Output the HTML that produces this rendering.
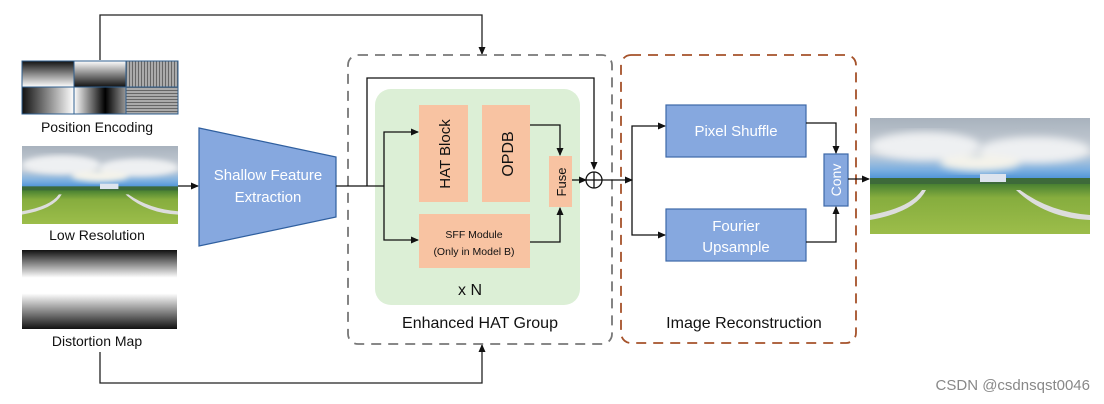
<!DOCTYPE html>
<html><head><meta charset="utf-8"><style>
html,body{margin:0;padding:0;background:#fff;}
svg{display:block;font-family:"Liberation Sans","DejaVu Sans",sans-serif;}
</style></head><body>
<svg width="1104" height="404" viewBox="0 0 1104 404" xmlns="http://www.w3.org/2000/svg">
<defs>
<marker id="ar" markerWidth="8" markerHeight="8" refX="7" refY="4" orient="auto" markerUnits="userSpaceOnUse">
<path d="M0,0.5 L8,4 L0,7.5 z" fill="#111"/></marker>
<linearGradient id="sky" x1="0" y1="0" x2="0" y2="1">
<stop offset="0" stop-color="#a8b2bd"/><stop offset="0.3" stop-color="#c9d0d8"/><stop offset="0.45" stop-color="#7aaee0"/><stop offset="0.55" stop-color="#3f8ad6"/></linearGradient>
<linearGradient id="grass" x1="0" y1="0" x2="0" y2="1">
<stop offset="0" stop-color="#3f7a30"/><stop offset="0.3" stop-color="#86ad3e"/><stop offset="1" stop-color="#9cbd4a"/></linearGradient>
<linearGradient id="dist" x1="0" y1="0" x2="0" y2="1">
<stop offset="0" stop-color="#111"/><stop offset="0.35" stop-color="#fff"/><stop offset="0.55" stop-color="#fff"/><stop offset="1" stop-color="#111"/></linearGradient>
<linearGradient id="g1" x1="0" y1="0" x2="0" y2="1"><stop offset="0" stop-color="#111"/><stop offset="1" stop-color="#fff"/></linearGradient>
<linearGradient id="g2" x1="0" y1="0" x2="0" y2="1"><stop offset="0" stop-color="#fff"/><stop offset="1" stop-color="#111"/></linearGradient>
<linearGradient id="g4" x1="0" y1="0" x2="1" y2="0"><stop offset="0" stop-color="#111"/><stop offset="1" stop-color="#fff"/></linearGradient>
<linearGradient id="g5" x1="0" y1="0" x2="1" y2="0"><stop offset="0" stop-color="#fff"/><stop offset="0.6" stop-color="#000"/><stop offset="1" stop-color="#999"/></linearGradient>
<pattern id="vs" width="3" height="3" patternUnits="userSpaceOnUse"><rect width="3" height="3" fill="#aaa"/><rect width="1" height="3" fill="#666"/></pattern>
<pattern id="hs" width="3" height="3" patternUnits="userSpaceOnUse"><rect width="3" height="3" fill="#aaa"/><rect width="3" height="1" fill="#666"/></pattern>
<filter id="bl"><feGaussianBlur stdDeviation="4"/></filter>
<symbol id="pano" viewBox="0 0 220 116" preserveAspectRatio="none">
<rect width="220" height="116" fill="url(#sky)"/>
<g filter="url(#bl)" fill="#eef0f2">
<ellipse cx="55" cy="28" rx="55" ry="14"/>
<ellipse cx="165" cy="32" rx="55" ry="13"/>
<ellipse cx="110" cy="45" rx="40" ry="8" fill="#f4f3ea"/>
</g>
<rect y="64" width="220" height="52" fill="url(#grass)"/>
<rect y="60" width="220" height="6" fill="#3d6a3a"/>
<rect x="110" y="56" width="26" height="8" fill="#dde4ee"/>
<path d="M0,97 Q40,90 52,72 L56,72 Q45,94 0,102 z" fill="#ddd"/>
<path d="M220,97 Q180,94 150,72 L146,72 Q175,100 220,102 z" fill="#ddd"/>
</symbol>
</defs>

<polyline points="100,60 100,15 482,15 482,54" fill="none" stroke="#222" stroke-width="1.3" marker-end="url(#ar)"/>
<polyline points="100,352 100,383 482,383 482,345" fill="none" stroke="#222" stroke-width="1.3" marker-end="url(#ar)"/>

<g stroke="#2f5f8f" stroke-width="1">
<rect x="22" y="61" width="52" height="26" fill="url(#g1)"/>
<rect x="74" y="61" width="52" height="26" fill="url(#g2)"/>
<rect x="126" y="61" width="52" height="26" fill="url(#vs)"/>
<rect x="22" y="87" width="52" height="27" fill="url(#g4)"/>
<rect x="74" y="87" width="52" height="27" fill="url(#g5)"/>
<rect x="126" y="87" width="52" height="27" fill="url(#hs)"/>
</g>
<text x="97" y="132" font-size="14" text-anchor="middle" fill="#111">Position Encoding</text>
<use href="#pano" x="22" y="146" width="156" height="78"/>
<text x="97" y="240" font-size="14" text-anchor="middle" fill="#111">Low Resolution</text>
<rect x="22" y="250" width="155" height="79" fill="url(#dist)"/>
<text x="97" y="346" font-size="14" text-anchor="middle" fill="#111">Distortion Map</text>

<line x1="178" y1="186" x2="198" y2="186" stroke="#111" stroke-width="1.3" marker-end="url(#ar)"/>
<polygon points="199,128 336,157 336,217 199,246" fill="#86a8df" stroke="#2f5f9f" stroke-width="1.2"/>
<text x="268" y="180" font-size="15" text-anchor="middle" fill="#fff">Shallow Feature</text>
<text x="268" y="202" font-size="15" text-anchor="middle" fill="#fff">Extraction</text>

<rect x="348" y="55" width="264" height="289" rx="10" fill="none" stroke="#777" stroke-width="1.8" stroke-dasharray="10,7"/>
<rect x="375" y="89" width="205" height="216" rx="16" fill="#dcefd6"/>
<rect x="419" y="105" width="49" height="97" fill="#f8c3a2"/>
<rect x="482" y="105" width="48" height="97" fill="#f8c3a2"/>
<rect x="419" y="214" width="111" height="54" fill="#f8c3a2"/>
<rect x="549" y="156" width="23" height="51" fill="#f8c3a2"/>
<text transform="translate(450,154) rotate(-90)" font-size="15" text-anchor="middle" fill="#111">HAT Block</text>
<text transform="translate(513,154) rotate(-90)" font-size="16" text-anchor="middle" fill="#111">OPDB</text>
<text transform="translate(566,182) rotate(-90)" font-size="13" text-anchor="middle" fill="#111">Fuse</text>
<text x="474" y="238" font-size="10.5" text-anchor="middle" fill="#111">SFF Module</text>
<text x="474" y="255" font-size="10.5" text-anchor="middle" fill="#111">(Only in Model B)</text>
<text x="470" y="295" font-size="16" text-anchor="middle" fill="#111">x N</text>
<text x="480" y="328" font-size="16" text-anchor="middle" fill="#111">Enhanced HAT Group</text>
<g fill="none" stroke="#111" stroke-width="1.3">
<line x1="336" y1="186" x2="384" y2="186"/>
<polyline points="367,186 367,78 594,78 594,169" marker-end="url(#ar)"/>
<polyline points="384,186 384,132 418,132" marker-end="url(#ar)"/>
<polyline points="384,186 384,240 418,240" marker-end="url(#ar)"/>
<polyline points="530,125 560,125 560,155" marker-end="url(#ar)"/>
<polyline points="530,242 560,242 560,208" marker-end="url(#ar)"/>
<line x1="572" y1="180" x2="586" y2="180" marker-end="url(#ar)"/>
<circle cx="594" cy="180" r="8"/>
<line x1="586" y1="180" x2="602" y2="180"/>
<line x1="594" y1="172" x2="594" y2="188"/>
<line x1="602" y1="180" x2="632" y2="180" marker-end="url(#ar)"/>
</g>

<rect x="621" y="55" width="235" height="288" rx="10" fill="none" stroke="#a5522a" stroke-width="1.8" stroke-dasharray="10,7"/>
<rect x="666" y="105" width="140" height="52" fill="#86a8df" stroke="#3d68a8" stroke-width="1.2"/>
<rect x="666" y="209" width="140" height="52" fill="#86a8df" stroke="#3d68a8" stroke-width="1.2"/>
<rect x="824" y="154" width="24" height="52" fill="#86a8df" stroke="#3d68a8" stroke-width="1.2"/>
<text x="736" y="136" font-size="15" text-anchor="middle" fill="#fff">Pixel Shuffle</text>
<text x="736" y="231" font-size="15" text-anchor="middle" fill="#fff">Fourier</text>
<text x="736" y="252" font-size="15" text-anchor="middle" fill="#fff">Upsample</text>
<text transform="translate(841,180) rotate(-90)" font-size="14" text-anchor="middle" fill="#fff">Conv</text>
<text x="744" y="328" font-size="16" text-anchor="middle" fill="#111">Image Reconstruction</text>
<g fill="none" stroke="#111" stroke-width="1.3">
<polyline points="632,180 632,126 665,126" marker-end="url(#ar)"/>
<polyline points="632,180 632,235 665,235" marker-end="url(#ar)"/>
<polyline points="806,123 836,123 836,153" marker-end="url(#ar)"/>
<polyline points="806,242 836,242 836,207" marker-end="url(#ar)"/>
<line x1="848" y1="179" x2="869" y2="179" marker-end="url(#ar)"/>
</g>
<use href="#pano" x="870" y="118" width="220" height="116"/>

<text x="1090" y="390" font-size="15" text-anchor="end" fill="#888">CSDN @csdnsqst0046</text>
</svg>
</body></html>
